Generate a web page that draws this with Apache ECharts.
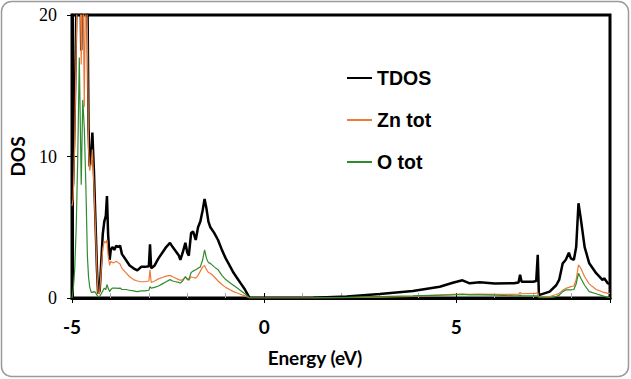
<!DOCTYPE html>
<html>
<head>
<meta charset="utf-8">
<script src="https://cdn.jsdelivr.net/npm/echarts@6/dist/echarts.min.js"></script>
<style>
html,body{margin:0;padding:0;background:#fff;}
#c{width:631px;height:379px;}
</style>
</head>
<body>
<div id="c"></div>
<script>
// Energy grid (eV)
var energy = [-5.00,-4.97,-4.93,-4.89,-4.85,-4.81,-4.76,-4.72,-4.68,-4.64,-4.60,-4.57,-4.54,-4.50,-4.47,-4.43,-4.39,-4.35,-4.32,-4.28,-4.24,-4.20,-4.16,-4.12,-4.09,-4.06,-4.02,-3.99,-3.95,-3.90,-3.85,-3.80,-3.75,-3.70,-3.60,-3.50,-3.40,-3.30,-3.20,-3.10,-3.00,-2.97,-2.94,-2.85,-2.75,-2.65,-2.55,-2.45,-2.38,-2.30,-2.22,-2.18,-2.12,-2.05,-2.00,-1.96,-1.90,-1.85,-1.78,-1.72,-1.66,-1.60,-1.55,-1.50,-1.45,-1.40,-1.30,-1.20,-1.10,-1.00,-0.90,-0.80,-0.70,-0.60,-0.50,-0.42,-0.38,0.00,0.60,1.27,2.15,3.01,3.87,4.57,4.91,5.16,5.35,5.61,6.00,6.50,6.62,6.66,6.70,7.00,7.08,7.12,7.15,7.43,7.60,7.68,7.77,7.85,7.93,7.98,8.06,8.12,8.18,8.24,8.34,8.46,8.64,8.81,8.85,8.94,9.00];
// Total DOS
var tdos = [7.0,8.2,13,20,26,30,17.5,28,26,28,22,12,9.3,10,11.7,9.0,5.5,2.0,0.3,0.5,2.5,4.5,5.4,5.8,7.2,4.5,2.7,3.4,3.6,3.4,3.7,3.6,3.7,3.1,2.7,2.3,2.1,1.95,2.2,2.2,2.25,3.8,2.1,2.3,2.8,3.2,3.6,3.9,3.6,3.3,3.0,2.7,3.2,3.9,3.2,3.0,4.6,4.7,4.1,5.0,5.4,6.2,7.0,6.3,5.4,5.0,4.6,4.1,3.4,2.8,2.3,1.8,1.4,1.0,0.6,0.2,0,0,0,0.02,0.1,0.28,0.5,0.8,1.08,1.25,1.04,1.12,1.02,1.04,1.1,1.65,1.15,1.15,1.2,3.05,0.2,0.45,0.9,1.3,2.45,2.7,3.2,2.8,2.7,3.6,6.7,5.6,3.6,2.45,1.75,1.27,1.4,1.04,1.0];
// Zn total
var znTot = [6.5,7.0,11,18,24,27,16.5,25,13.5,24,19,10.5,9.0,9.5,10.5,8.0,5.0,1.8,0.3,0.4,2.0,3.5,4.0,3.9,4.1,3.0,2.3,2.6,2.5,2.5,2.6,2.5,2.4,2.1,1.8,1.5,1.3,1.2,1.15,1.15,1.2,2.0,1.1,1.2,1.35,1.45,1.55,1.6,1.5,1.4,1.3,1.25,1.3,1.5,1.3,1.25,1.5,1.45,1.4,1.6,1.9,2.2,2.3,2.0,1.8,1.75,1.5,1.2,0.95,0.75,0.6,0.45,0.35,0.25,0.15,0.05,0,0,0,0,0.02,0.06,0.12,0.2,0.25,0.28,0.25,0.27,0.25,0.26,0.28,0.4,0.3,0.32,0.33,0.4,0.05,0.1,0.25,0.33,0.55,0.68,0.75,0.8,0.85,1.3,2.35,2.1,1.5,1.0,0.6,0.42,0.4,0.33,0.32];
// O total
var oTot = [0.0,0.5,2,5,10,17,8,14,12,8,3,1.5,0.8,0.4,0.4,0.45,0.4,0.2,0.1,0.1,0.3,0.5,0.7,0.6,0.95,0.7,0.45,0.6,0.7,0.7,0.7,0.68,0.7,0.6,0.6,0.55,0.5,0.45,0.5,0.5,0.55,0.8,0.7,0.75,0.85,1.0,1.15,1.3,1.2,1.15,1.1,1.05,1.2,1.5,1.35,1.3,1.8,1.9,2.0,2.1,2.2,2.7,3.4,2.8,2.5,2.45,2.2,2.0,1.6,1.3,1.1,0.9,0.7,0.5,0.3,0.1,0,0,0,0.01,0.04,0.1,0.15,0.2,0.22,0.25,0.22,0.22,0.2,0.15,0.15,0.2,0.15,0.15,0.15,0.15,0.02,0.02,0.1,0.2,0.45,0.57,0.57,0.57,0.6,1.0,1.75,1.4,0.9,0.45,0.3,0.15,0.12,0.05,0.05];
var seriesNames = ['TDOS','Zn tot','O tot'];
var seriesColors = ['#000000','#EE7A35','#2E8B2E'];
var xTicks = [-5, 0, 5];
var yTicks = [0, 10, 20];

function pairs(v){ return energy.map(function(e,i){ return [e, v[i]]; }); }

var chart = echarts.init(document.getElementById('c'), null, {renderer:'svg'});
var labelFont = 'Lato';
chart.setOption({
  animation:false,
  backgroundColor:'#fff',
  grid:{left:71,right:21,top:15,bottom:81,show:true,borderColor:'#000',borderWidth:3,backgroundColor:'transparent'},
  legend:{
    orient:'vertical', left:342, top:63, itemWidth:25, itemHeight:2, itemGap:22,
    data:seriesNames.map(function(n,i){ return {name:n, icon:'rect', itemStyle:{color:seriesColors[i]}}; }),
    textStyle:{fontFamily:'Liberation Sans',fontWeight:'bold',fontSize:19.5,color:'#000'}
  },
  xAxis:[{
    type:'value', min:-5, max:9, interval:5,
    name:'Energy (eV)', nameLocation:'middle', nameGap:50,
    nameTextStyle:{fontFamily:labelFont,fontWeight:'bold',fontSize:19,color:'#000',padding:[0,52,0,0]},
    axisLine:{onZero:false,lineStyle:{color:'#000',width:3}},
    axisTick:{show:true,length:5,lineStyle:{color:'#000',width:1}},
    axisLabel:{fontFamily:labelFont,fontWeight:'bold',fontSize:19,color:'#000',margin:19,
      formatter:function(v){return xTicks.indexOf(v)>=0? String(v):'';}},
    splitLine:{show:false}
  },{
    type:'value', min:-5, max:9, interval:5, position:'bottom',
    axisLine:{show:false,onZero:false},
    axisTick:{show:true,inside:true,length:5,lineStyle:{color:'#000',width:1}},
    minorTick:{show:true,splitNumber:5,length:5,lineStyle:{color:'#aaa',width:1}},
    axisLabel:{show:false}, splitLine:{show:false}
  }],
  yAxis:[{
    type:'value', min:0, max:20, interval:10,
    name:'DOS', nameLocation:'middle', nameGap:45, nameRotate:90,
    nameTextStyle:{fontFamily:labelFont,fontWeight:'bold',fontSize:19,color:'#000'},
    axisLine:{show:true,onZero:false,lineStyle:{color:'#000',width:3}},
    axisTick:{show:true,length:5,lineStyle:{color:'#000',width:1}},
    axisLabel:{fontFamily:'Liberation Sans Narrow',fontSize:18,color:'#000',margin:15,
      formatter:function(v){return yTicks.indexOf(v)>=0? String(v):'';}},
    splitLine:{show:false}
  },{
    type:'value', min:0, max:20, interval:10, position:'left',
    axisLine:{show:false,onZero:false},
    axisTick:{show:true,inside:true,length:6,lineStyle:{color:'#000',width:1}},
    axisLabel:{show:false}, splitLine:{show:false}
  }],
  graphic:[{
    type:'rect', silent:true, z:-1,
    shape:{x:1.5,y:1.5,width:627,height:375,r:10},
    style:{fill:'none',stroke:'#9a9a9a',lineWidth:1.5}
  }],
  series:[
    {name:seriesNames[0],type:'line',data:pairs(tdos),symbol:'none',clip:true,z:3,
      lineStyle:{color:seriesColors[0],width:2.5},itemStyle:{color:seriesColors[0]}},
    {name:seriesNames[1],type:'line',data:pairs(znTot),symbol:'none',clip:true,z:4,
      lineStyle:{color:seriesColors[1],width:1.2},itemStyle:{color:seriesColors[1]}},
    {name:seriesNames[2],type:'line',data:pairs(oTot),symbol:'none',clip:true,z:5,
      lineStyle:{color:seriesColors[2],width:1.2},itemStyle:{color:seriesColors[2]}}
  ]
});
</script>
</body>
</html>
